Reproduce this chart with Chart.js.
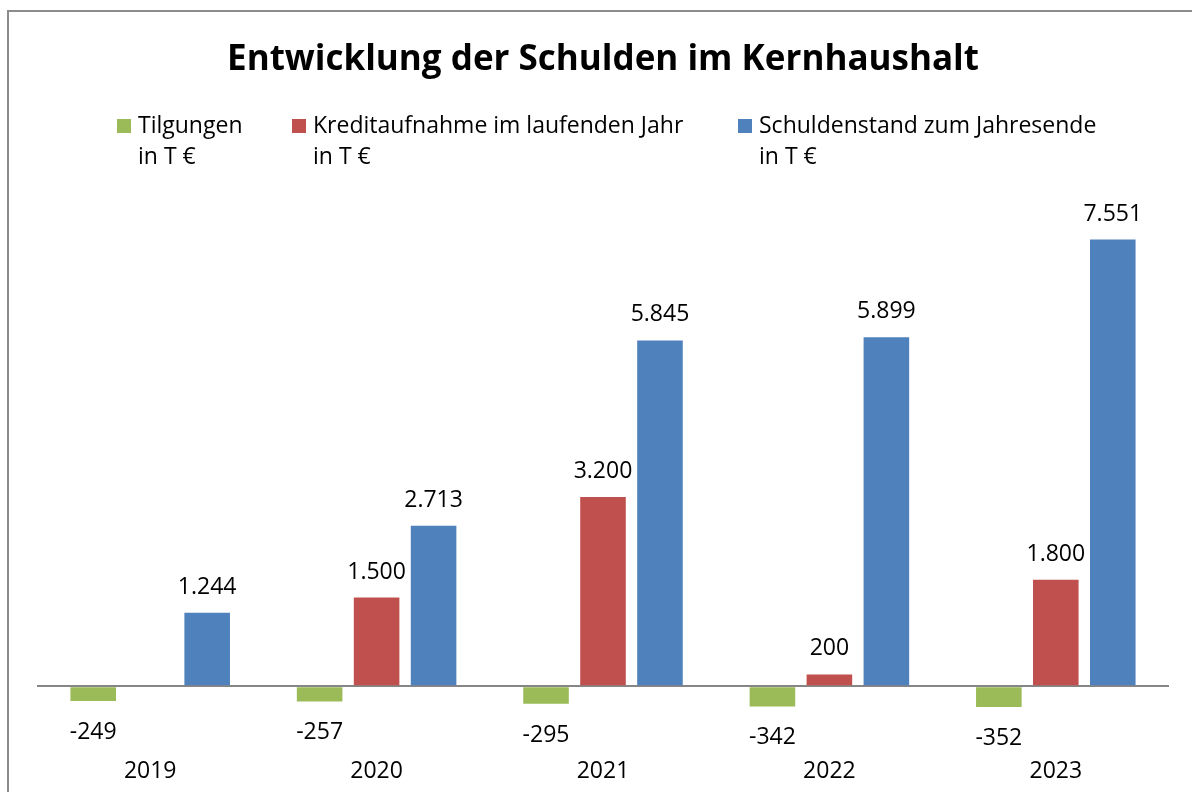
<!DOCTYPE html>
<html>
<head>
<meta charset="utf-8">
<title>Entwicklung der Schulden im Kernhaushalt</title>
<script src="https://cdn.jsdelivr.net/npm/chart.js@4"></script>
<style>
  html, body { margin: 0; padding: 0; background: #fff; overflow: hidden; }
  #frame {
    position: absolute; left: 7px; top: 10px; width: 1200px; height: 800px;
    border-left: 2px solid #8c8c8c; border-top: 2px solid #8c8c8c;
  }
  #chart-schulden { position: absolute; left: 0; top: 0; }
</style>
</head>
<body>
<div id="frame">
  <canvas id="chart-schulden" width="1192" height="792"></canvas>
</div>
<script>
  /*
    ==================================================
    ====================== DATEN =====================
    ==================================================
  */

  const jahre = ['2019', '2020', '2021', '2022', '2023'];
  const tilgungen = [-249, -257, -295, -342, -352];
  const kreditaufnahme = [null, 1500, 3200, 200, 1800];
  const schuldenstand = [1244, 2713, 5845, 5899, 7551];

  const serienNamen = [
    ['Tilgungen', 'in T €'],
    ['Kreditaufnahme im laufenden Jahr', 'in T €'],
    ['Schuldenstand zum Jahresende', 'in T €']
  ];
  const serienFarben = ['#9BBB59', '#C0504D', '#4F81BD'];

  const FONT = '"Open Sans"';

  // 1244 -> "1.244"
  let formatZahl = (v) => {
    let s = String(Math.abs(v)).replace(/\B(?=(\d{3})+(?!\d))/g, '.');
    return v < 0 ? '-' + s : s;
  };

  /*
    ==================================================
    ===================== PLUGINS ====================
    ==================================================
  */

  // Werte über bzw. unter den Balken
  const balkenWerte = {
    id: 'balkenWerte',
    afterDatasetsDraw(chart) {
      let ctx = chart.ctx;
      ctx.save();
      ctx.font = '23px ' + FONT;
      ctx.fillStyle = '#000';
      ctx.textAlign = 'center';
      ctx.textBaseline = 'alphabetic';
      chart.data.datasets.forEach((ds, i) => {
        chart.getDatasetMeta(i).data.forEach((bar, j) => {
          let v = ds.data[j];
          if (v == null) return;
          let y = v >= 0 ? bar.y - 19 : bar.y + 38;
          ctx.fillText(formatZahl(v), bar.x, y);
        });
      });
      ctx.restore();
    }
  };

  // Legende mit zweizeiligen Einträgen
  const legendeX = [108, 283, 729];
  const legende = {
    id: 'legende',
    afterDraw(chart) {
      let ctx = chart.ctx;
      ctx.save();
      ctx.font = '23px ' + FONT;
      ctx.textAlign = 'left';
      ctx.textBaseline = 'alphabetic';
      chart.data.datasets.forEach((ds, i) => {
        let x = legendeX[i];
        ctx.fillStyle = ds.backgroundColor;
        ctx.fillRect(x, 107, 14, 14);
        ctx.fillStyle = '#000';
        ds.label.forEach((zeile, k) => ctx.fillText(zeile, x + 21, 121 + k * 31));
      });
      ctx.restore();
    }
  };

  /*
    ==================================================
    ====================== CHART =====================
    ==================================================
  */

  let ctx = document.getElementById('chart-schulden').getContext('2d');

  let chart = new Chart(ctx, {
    type: 'bar',
    data: {
      labels: jahre,
      datasets: [tilgungen, kreditaufnahme, schuldenstand].map((data, i) => ({
        label: serienNamen[i],
        data: data,
        backgroundColor: serienFarben[i],
        barPercentage: 0.8,
        categoryPercentage: 0.755
      }))
    },
    options: {
      responsive: false,
      animation: false,
      layout: { padding: { left: 28, right: 32, top: 0, bottom: 15 } },
      plugins: {
        legend: { display: false },
        tooltip: { enabled: false },
        title: {
          display: true,
          text: 'Entwicklung der Schulden im Kernhaushalt',
          color: '#000',
          font: { family: FONT, size: 35, weight: 'bold' },
          padding: { top: 27, bottom: 132 }
        }
      },
      scales: {
        x: {
          grid: { display: false },
          border: { display: false },
          ticks: { color: '#000', font: { family: FONT, size: 23 }, padding: 4 }
        },
        y: {
          min: -1000,
          max: 8000,
          ticks: { display: false, stepSize: 1000 },
          border: { display: false },
          grid: {
            drawTicks: false,
            lineWidth: 2,
            color: (c) => c.tick && c.tick.value === 0 ? '#868686' : 'rgba(0,0,0,0)'
          }
        }
      }
    },
    plugins: [balkenWerte, legende]
  });
</script>
</body>
</html>
